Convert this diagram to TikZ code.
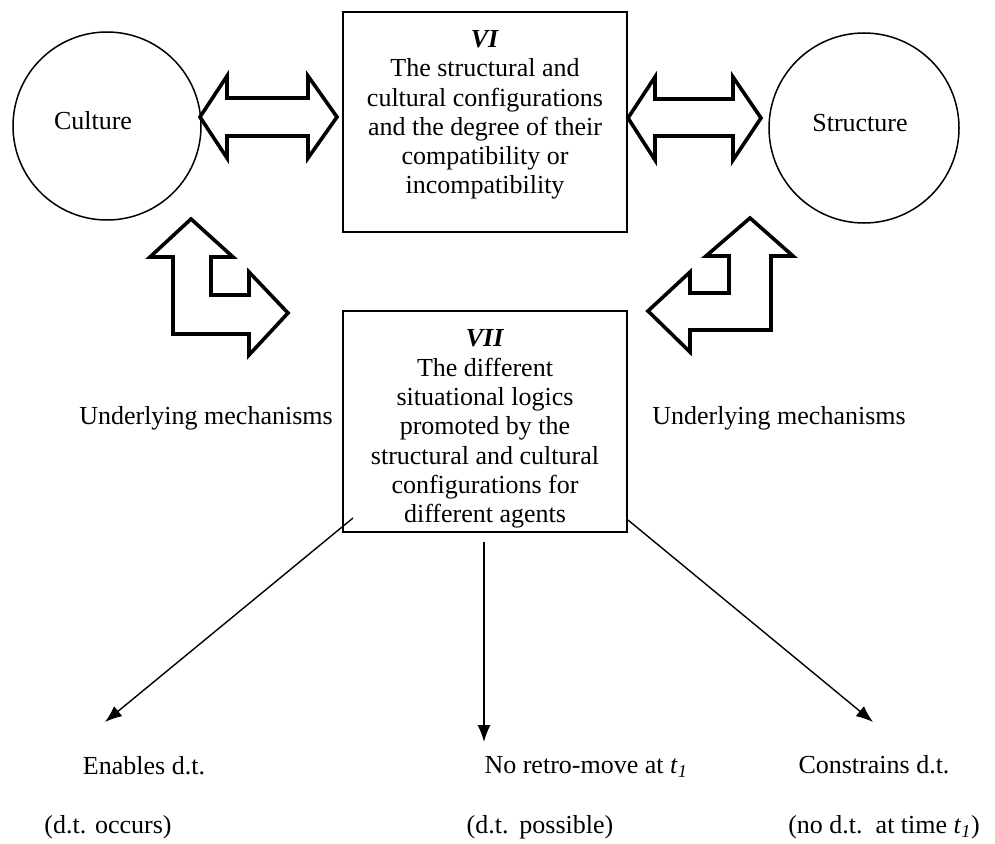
\documentclass[tikz,border=0pt]{standalone}
\usepackage{fontspec}
\setmainfont{Liberation Serif}
\usetikzlibrary{arrows.meta}

\begin{document}
\begin{tikzpicture}[x=1pt,y=-1pt,
  every node/.style={font=\fontsize{26pt}{29.3pt}\selectfont},
  ring/.style={circle,draw,line width=1.5pt,minimum size=#1,inner sep=0pt},
  framebox/.style={draw,line width=2pt,minimum width=284pt,minimum height=#1,inner sep=0pt},
  boxtext/.style={align=center,inner sep=0pt},
  label/.style={inner sep=0pt,text height=0.7em,text depth=0.22em},
  blockarrow/.style={draw,line width=3.6pt,fill=white,line join=miter},
  link/.style={line width=1.4pt,-{Latex[length=17pt,width=13pt]}}]

\useasboundingbox (0,0) rectangle (995,843);

% the two realms
\node[ring=188pt] (culture) at (107,126) {};
\node[label] (culturetxt) at (93,127) {Culture};
\node[ring=190pt] (structure) at (864,128) {};
\node[label] (structuretxt) at (860,129) {Structure};

% the two boxes
\node[framebox=220pt] (vi) at (485,122) {};
\node[boxtext] (vitxt) at (485,115) {\textbf{\textit{VI}}\\The structural and\\cultural configurations\\and the degree of their\\compatibility or\\incompatibility};
\node[framebox=221pt] (vii) at (485,421.5) {};
\node[boxtext] (viitxt) at (485,429) {\textbf{\textit{VII}}\\The different\\situational logics\\promoted by the\\structural and cultural\\configurations for\\different agents};

% double-headed block arrows between the realms and box VI
\draw[blockarrow] (200,117) -- (227,76) -- (227,98) -- (308,98) -- (308,76) -- (337,117)
  -- (308,158) -- (308,136) -- (227,136) -- (227,158) -- cycle;
\draw[blockarrow] (628,118) -- (655,77) -- (655,99) -- (733,99) -- (733,77) -- (761,118)
  -- (733,160) -- (733,136) -- (655,136) -- (655,160) -- cycle;

% bent block arrows (underlying mechanisms)
\draw[blockarrow] (191,219) -- (233,257) -- (211,257) -- (211,295) -- (249,295) -- (249,272)
  -- (288,313) -- (249,355) -- (249,334) -- (173,334) -- (173,257) -- (150,257) -- cycle;
\draw[blockarrow] (750,218) -- (793,256) -- (771,256) -- (771,330) -- (690,330) -- (690,352)
  -- (648,311) -- (690,272) -- (690,293) -- (729,293) -- (729,256) -- (706,256) -- cycle;

\node[label] (mechl) at (206,422) {Underlying mechanisms};
\node[label] (mechr) at (779,422) {Underlying mechanisms};

% outcomes
\coordinate (startl) at (353,518);
\coordinate (startm) at (484,542);
\coordinate (startr) at (628,520);
\coordinate (endl) at (105,722);
\coordinate (endm) at (484,742);
\coordinate (endr) at (873,722);
\draw[link] (startl) -- (endl);
\draw[link] (startm) -- (endm);
\draw[link] (startr) -- (endr);

\node[label] (enables) at (144,772) {Enables d.t.};
\node[label] (noretro) at (586,771) {No retro-move at \textit{t}\textsubscript{\textit{1}}};
\node[label] (constrains) at (874,771) {Constrains d.t.};
\node[label] (occurs) at (108,831) {(d.t. occurs)};
\node[label] (possible) at (540,831) {(d.t.\ \,possible)};
\node[label] (nodt) at (884,831) {(no d.t.\ \ at time \textit{t}\textsubscript{\textit{1}})};

\end{tikzpicture}
\end{document}
